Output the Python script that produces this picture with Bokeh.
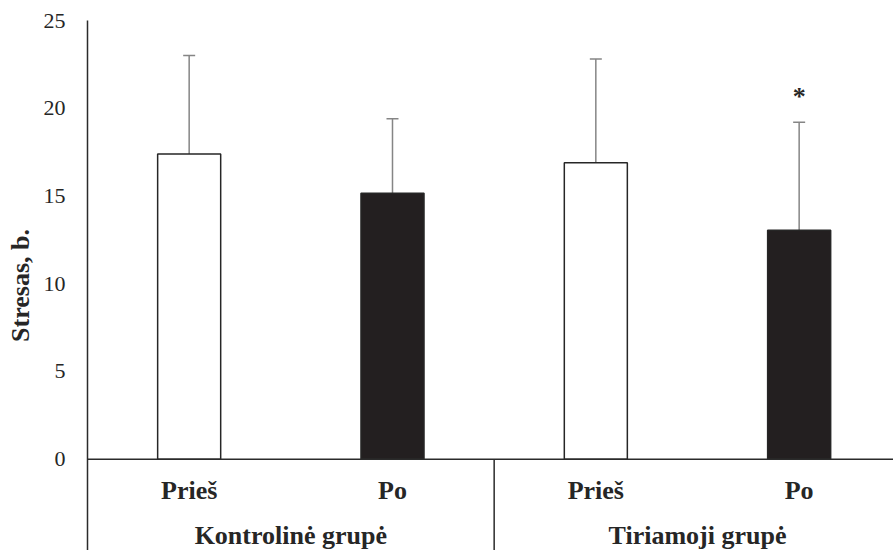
from bokeh.plotting import figure
from bokeh.models import (ColumnDataSource, Range1d, FixedTicker, Whisker, TeeHead,
                          Span, LabelSet)
from bokeh.embed import file_html
from bokeh.resources import INLINE

# ---- data ----
groups = ["Kontrolinė grupė", "Tiriamoji grupė"]
phases = ["Prieš", "Po", "Prieš", "Po"]
means = [17.4, 15.15, 16.9, 13.05]
upper = [23.0, 19.4, 22.8, 19.2]
fills = ["white", "#231f20", "white", "#231f20"]
sig_marks = ["", "", "", "*"]
y_ticks = [0, 5, 10, 15, 20, 25]

FONT = "Liberation Serif"
x = [i + 0.5 for i in range(len(phases))]

src = ColumnDataSource(dict(x=x, top=means, upper=upper, fill=fills,
                            phase=phases, sig=sig_marks,
                            sig_y=[u + 1.0 for u in upper]))

y_bottom = -5.2
p = figure(width=893, height=550, output_backend="svg", toolbar_location=None,
           x_range=Range1d(0, 3.964), y_range=Range1d(y_bottom, 25),
           min_border_left=87, min_border_right=0, min_border_top=20,
           min_border_bottom=0, outline_line_color=None)
p.xaxis.visible = False
p.xgrid.visible = False
p.ygrid.visible = False

ax = p.yaxis[0]
ax.ticker = FixedTicker(ticks=y_ticks)
ax.major_tick_line_color = None
ax.minor_tick_line_color = None
ax.major_tick_out = 0
ax.major_tick_in = 0
ax.major_label_standoff = 22
ax.major_label_text_font = FONT
ax.major_label_text_font_size = "22px"
ax.major_label_text_color = "#262626"
ax.axis_line_color = "#2b2b2b"
ax.axis_line_width = 1.5
ax.axis_label = "Stresas, b."
ax.axis_label_text_font = FONT
ax.axis_label_text_font_style = "bold"
ax.axis_label_text_font_size = "26px"
ax.axis_label_text_color = "#262626"
ax.axis_label_standoff = 6

# bars
p.vbar(x="x", top="top", bottom=0, width=0.31, source=src,
       fill_color="fill", line_color="#262626", line_width=1.5)

# error bars (upper only)
p.add_layout(Whisker(source=src, base="x", lower="top", upper="upper",
                     dimension="height", line_color="#858585", line_width=1.5,
                     upper_head=TeeHead(size=12, line_color="#858585", line_width=1.5),
                     lower_head=None))

# significance marker
p.add_layout(LabelSet(x="x", y="sig_y", text="sig", source=src, text_font=FONT,
                      text_font_style="bold", text_font_size="26px", text_align="center",
                      text_baseline="alphabetic", text_color="#262626"))

# category axis line and separators
p.add_layout(Span(location=0, dimension="width", line_color="#2b2b2b", line_width=1.5))
p.segment(x0=[2], y0=[0], x1=[2], y1=[y_bottom], line_color="#2b2b2b", line_width=1.5)

# phase labels
p.add_layout(LabelSet(x="x", y=-2.24, text="phase", source=src, text_font=FONT,
                      text_font_style="bold", text_font_size="26px", text_align="center",
                      text_baseline="alphabetic", text_color="#262626"))

# group labels
gsrc = ColumnDataSource(dict(x=[1.0, 3.0], label=groups))
p.add_layout(LabelSet(x="x", y=-4.85, text="label", source=gsrc, text_font=FONT,
                      text_font_style="bold", text_font_size="26px", text_align="center",
                      text_baseline="alphabetic", text_color="#262626"))

open("out.html", "w").write(file_html(p, INLINE))
